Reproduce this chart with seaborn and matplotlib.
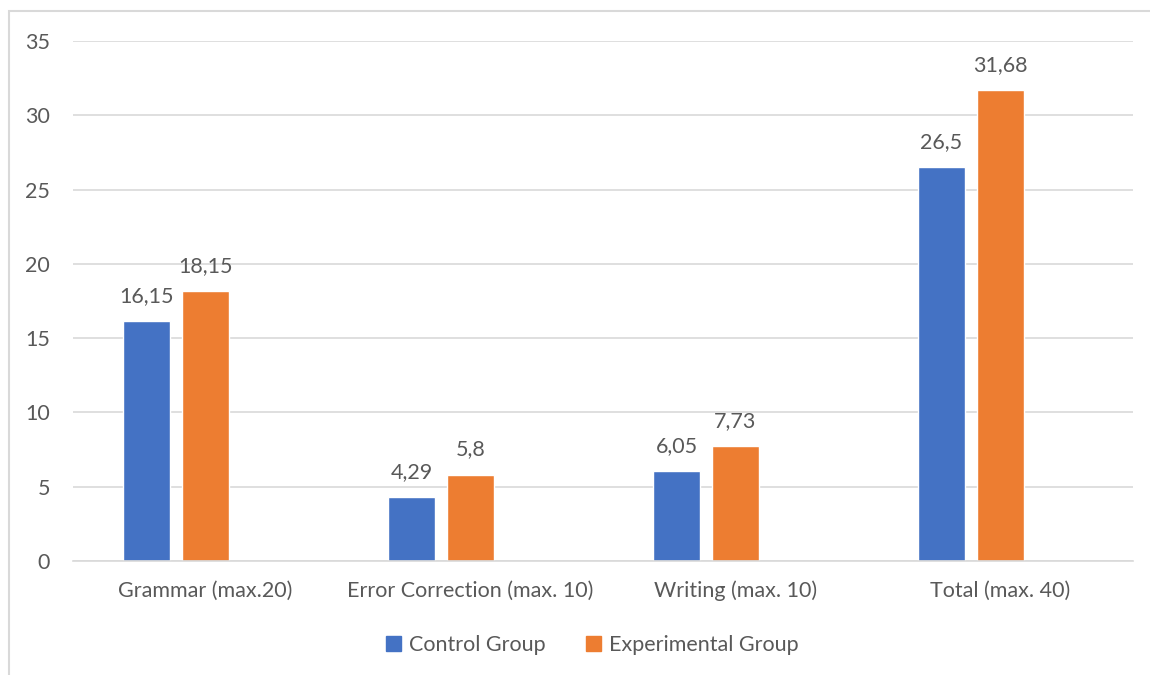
import pandas as pd
import seaborn as sns
import matplotlib.pyplot as plt
from matplotlib.patches import Rectangle, Patch

# données
categories = ["Grammar (max.20)", "Error Correction (max. 10)", "Writing (max. 10)", "Total (max. 40)"]
control = [16.15, 4.29, 6.05, 26.5]
experimental = [18.15, 5.8, 7.73, 31.68]
labels_control = ["16,15", "4,29", "6,05", "26,5"]
labels_experimental = ["18,15", "5,8", "7,73", "31,68"]
groups = ["Control Group", "Experimental Group"]
colors = ["#4472C4", "#ED7D31"]
yticks = [0, 5, 10, 15, 20, 25, 30, 35]

df = pd.DataFrame({
    "Category": categories * 2,
    "Group": [groups[0]] * 4 + [groups[1]] * 4,
    "Score": control + experimental,
})

sns.set_theme(style="white")
plt.rcParams['font.family'] = ['Lato', 'DejaVu Sans']
grey = "#595959"
fs = 15.5

fig = plt.figure(figsize=(11.5, 6.75), dpi=100)
ax = fig.add_axes([73 / 1150, 1 - 561 / 675, 1060 / 1150, 520 / 675])

# troisième série vide (comme dans Excel) pour garder l'espace à droite
palette = {groups[0]: colors[0], groups[1]: colors[1], "_empty": "white"}
sns.barplot(data=df, x="Category", y="Score", hue="Group",
            hue_order=groups + ["_empty"], order=categories,
            palette=palette, width=0.668, gap=0.2, ax=ax, legend=False,
            saturation=1, errorbar=None)

# étiquettes de données
for cont, labs in zip(ax.containers[:2], [labels_control, labels_experimental]):
    ax.bar_label(cont, labels=labs, padding=11, color=grey, fontsize=fs)

ax.set_ylim(0, 35)
ax.set_xlim(-0.5, 3.5)
ax.set_yticks(yticks)
ax.yaxis.grid(True, color="#D9D9D9", linewidth=1.2)
ax.set_axisbelow(True)
for s in ["top", "right", "left"]:
    ax.spines[s].set_visible(False)
ax.spines["bottom"].set_color("#D9D9D9")
ax.spines["bottom"].set_linewidth(1.2)
ax.tick_params(axis="y", length=0, pad=16.5, labelsize=fs, labelcolor=grey)
ax.tick_params(axis="x", length=0, pad=14, labelsize=fs, labelcolor=grey)
ax.set_xlabel("")
ax.set_ylabel("")

handles = [Patch(color=c, label=g) for c, g in zip(colors, groups)]
fig.legend(handles=handles, loc="center", bbox_to_anchor=(0.515, 1 - 645 / 675),
           ncol=2, frameon=False, fontsize=fs, labelcolor=grey,
           handlelength=0.7, handleheight=0.7, handletextpad=0.35, columnspacing=1.9)

# cadre du graphique
fig.patches.append(Rectangle((9 / 1150, -0.1), 1.2, 1 - 11 / 675 + 0.1,
                             transform=fig.transFigure, fill=False,
                             edgecolor="#D9D9D9", linewidth=1.5))

fig.savefig("out.png", dpi=100)
